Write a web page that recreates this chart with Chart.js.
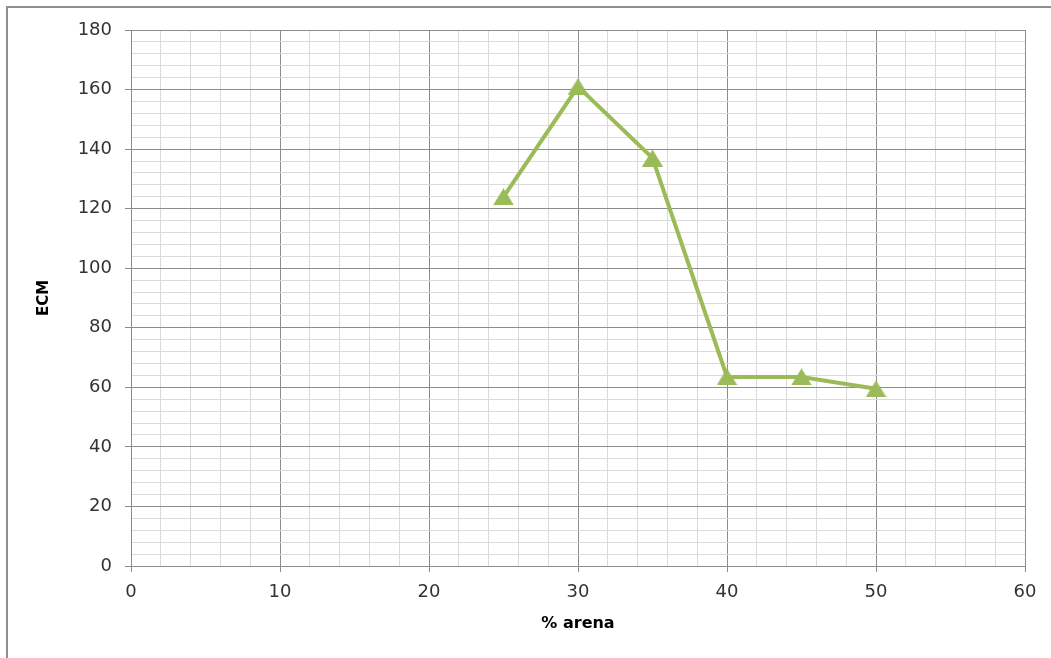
<html>
  <head>
    <style>
body {
  margin: 0;
  background: #fff;
}
    </style>
  </head>
  <body>
    <canvas id="chart" width="1051" height="658"></canvas>
    <script src="https://cdn.jsdelivr.net/npm/chart.js"></script>
    <script>

const arenaPct = [25, 30, 35, 40, 45, 50]
const ecmValues = [124, 161, 137, 63.5, 63.5, 59.5]
const xTicks = [0, 10, 20, 30, 40, 50, 60]
const yTicks = [0, 20, 40, 60, 80, 100, 120, 140, 160, 180]

const green = '#9bbb59'
const major = '#8c8c8c'
const minor = '#dadada'

// triangle marker with its box centred on the point, like Excel draws it
function triangleMarker(w, h) {
  const c = document.createElement('canvas')
  c.width = w
  c.height = h
  const g = c.getContext('2d')
  g.fillStyle = green
  g.beginPath()
  g.moveTo(w / 2, 0)
  g.lineTo(w, h)
  g.lineTo(0, h)
  g.closePath()
  g.fill()
  return c
}

const frame = {
  id: 'frame',
  beforeDraw(chart) {
    const ctx = chart.ctx
    ctx.save()
    ctx.fillStyle = '#fff'
    ctx.fillRect(0, 0, chart.width, chart.height)
    ctx.strokeStyle = '#8f8f8f'
    ctx.lineWidth = 2
    ctx.beginPath()
    ctx.moveTo(7, chart.height)
    ctx.lineTo(7, 7)
    ctx.lineTo(chart.width, 7)
    ctx.stroke()
    ctx.restore()
  }
}

const ctx = document.getElementById('chart').getContext('2d')
new Chart(ctx, {
  type: 'scatter',
  data: {
    datasets: [{
      data: arenaPct.map((x, i) => ({x, y: ecmValues[i]})),
      showLine: true,
      borderColor: green,
      borderWidth: 4,
      backgroundColor: green,
      pointStyle: triangleMarker(21, 17),
      pointRadius: 10,
      tension: 0
    }]
  },
  options: {
    responsive: false,
    animation: false,
    layout: {padding: {left: 0, top: 30, right: 26, bottom: 0}},
    plugins: {legend: {display: false}, tooltip: {enabled: false}},
    scales: {
      x: {
        type: 'linear',
        min: xTicks[0],
        max: xTicks[xTicks.length - 1],
        afterFit: s => { s.height = 92 },
        afterBuildTicks: s => {
          const t = []
          for (let v = s.min; v <= s.max; v += 2) t.push({value: v})
          s.ticks = t
        },
        ticks: {
          autoSkip: false,
          maxRotation: 0,
          padding: 10,
          color: '#333',
          font: {family: 'DejaVu Sans', size: 18},
          callback: v => xTicks.includes(v) ? v : ''
        },
        grid: {
          color: c => c.tick && c.tick.value % 10 === 0 ? major : minor,
          tickColor: c => c.tick && c.tick.value % 10 === 0 ? major : 'transparent',
          tickLength: 6
        },
        border: {color: major},
        title: {
          display: true,
          text: '% arena',
          color: '#000',
          font: {family: 'DejaVu Sans', size: 16, weight: 'bold'},
          padding: {top: 0, bottom: 25}
        }
      },
      y: {
        min: yTicks[0],
        max: yTicks[yTicks.length - 1],
        afterFit: s => { s.width = 131 },
        afterBuildTicks: s => {
          const t = []
          for (let v = s.min; v <= s.max; v += 4) t.push({value: v})
          s.ticks = t
        },
        ticks: {
          autoSkip: false,
          padding: 13,
          color: '#333',
          font: {family: 'DejaVu Sans', size: 18},
          callback: v => yTicks.includes(v) ? v : ''
        },
        grid: {
          color: c => c.tick && c.tick.value % 20 === 0 ? major : minor,
          tickColor: c => c.tick && c.tick.value % 20 === 0 ? major : 'transparent',
          tickLength: 6
        },
        border: {color: major},
        title: {
          display: true,
          text: 'ECM',
          color: '#000',
          font: {family: 'DejaVu Sans', size: 15, weight: 'bold'},
          padding: {top: 35, bottom: 0}
        }
      }
    }
  },
  plugins: [frame]
})
    </script>
  </body>
</html>
